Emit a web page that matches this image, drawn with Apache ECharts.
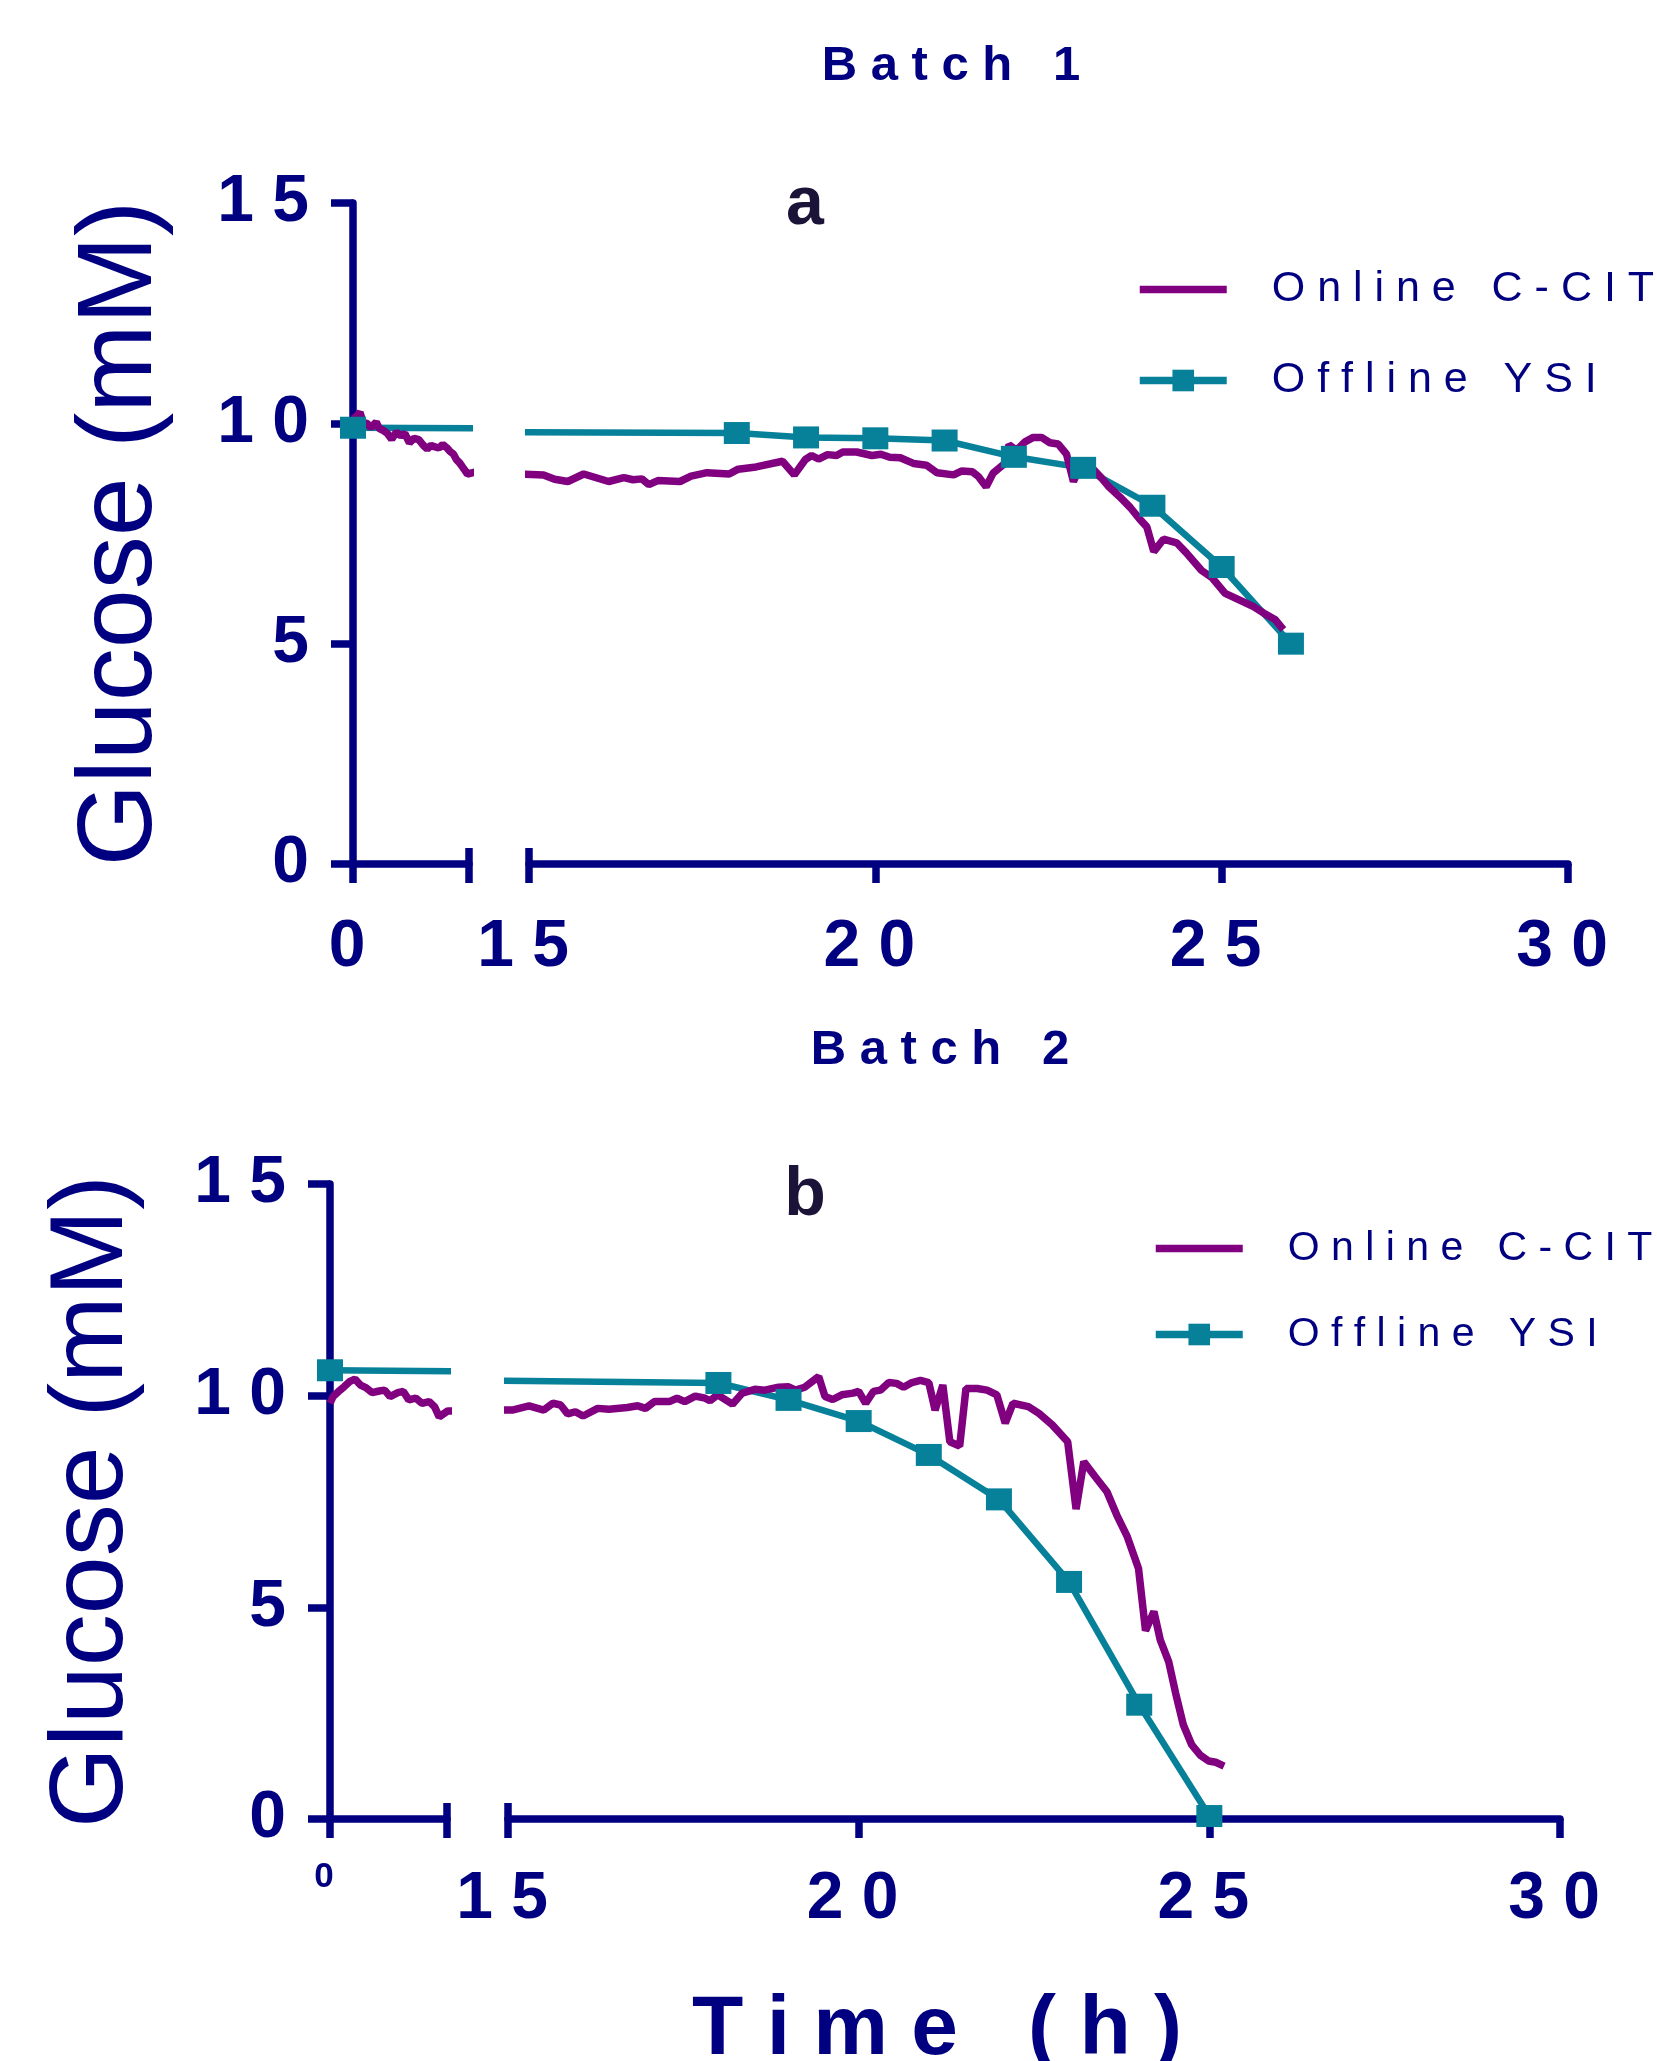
<!DOCTYPE html>
<html>
<head>
<meta charset="utf-8">
<title>Glucose: online C-CIT vs offline YSI</title>
<script src="https://cdn.jsdelivr.net/npm/echarts@6/dist/echarts.min.js"></script>
<style>
  html, body { margin: 0; padding: 0; background: #fff; }
  #chart { width: 1657px; height: 2061px; }
</style>
</head>
<body>
<div id="chart"></div>
<script>
// Values. Time in h, glucose in mM.
// The x axis is broken: a short segment from 0, then 15 to 30.

// Batch 1
const onlineA_t = [0, 0.04, 0.09, 0.13, 0.18, 0.23, 0.30, 0.34, 0.38, 0.44, 0.50, 0.56, 0.62, 0.67, 0.73, 0.79,
  0.85, 0.91, 0.96, 1.01, 1.05, 1.11, 1.16, 1.21, 1.25, 1.30, 1.34, 1.38, 1.42, 1.48, 1.60,
  14.9, 15.21, 15.37, 15.56, 15.79, 16.15, 16.37, 16.5, 16.63, 16.73, 16.86, 17.18, 17.34, 17.57, 17.89,
  18.02, 18.28, 18.66, 18.83, 18.99, 19.08, 19.18, 19.31, 19.44, 19.53, 19.73, 19.95, 20.08, 20.21, 20.36,
  20.55, 20.74, 20.89, 21.13, 21.25, 21.4, 21.49, 21.60, 21.70, 21.80, 21.87, 21.93, 22.04, 22.16, 22.28,
  22.40, 22.52, 22.64, 22.76, 22.86, 22.98, 23.12, 23.27, 23.36, 23.53, 23.68, 23.82, 23.92, 24.02, 24.16,
  24.35, 24.49, 24.71, 24.86, 25.05, 25.26, 25.46, 25.63, 25.77, 25.89];
const onlineA_v = [10.1, 10.15, 10.25, 10.02, 10.0, 9.9, 10.03, 9.88, 9.85, 9.78, 9.64, 9.8, 9.72, 9.77, 9.56, 9.66,
  9.63, 9.5, 9.42, 9.5, 9.47, 9.44, 9.52, 9.45, 9.37, 9.3, 9.17, 9.1, 9.0, 8.85, 8.9,
  8.85, 8.83, 8.73, 8.68, 8.85, 8.68, 8.77, 8.72, 8.74, 8.61, 8.70, 8.68, 8.80, 8.88, 8.85,
  8.96, 9.01, 9.14, 8.83, 9.18, 9.27, 9.19, 9.29, 9.27, 9.35, 9.35, 9.27, 9.30, 9.23, 9.22,
  9.09, 9.05, 8.88, 8.83, 8.92, 8.9, 8.79, 8.56, 8.87, 9.0, 9.09, 9.51, 9.39, 9.58, 9.68,
  9.68, 9.56, 9.53, 9.30, 8.68, 9.13, 9.0, 8.75, 8.58, 8.33, 8.09, 7.82, 7.65, 7.09, 7.37,
  7.29, 7.06, 6.66, 6.5, 6.14, 5.99, 5.84, 5.67, 5.55, 5.32];
const ysiA_t = [0, 18, 19, 20, 21, 22, 23, 24, 25, 26];
const ysiA_v = [9.9, 9.78, 9.68, 9.66, 9.61, 9.24, 8.99, 8.13, 6.74, 5.0];

// Batch 2
const onlineB_t = [0, 0.04, 0.11, 0.18, 0.25, 0.32, 0.39, 0.46, 0.54, 0.63, 0.70, 0.77, 0.87, 0.94, 1.01, 1.10,
  1.18, 1.27, 1.34, 1.40, 1.51, 1.62,
  14.89, 15.06, 15.3, 15.51, 15.64, 15.75, 15.85, 15.96, 16.07, 16.28, 16.44, 16.70, 16.85, 16.96, 17.09,
  17.30, 17.41, 17.52, 17.67, 17.81, 17.88, 17.99, 18.20, 18.34, 18.52, 18.66, 18.86, 19.0, 19.10, 19.23,
  19.43, 19.52, 19.63, 19.76, 19.92, 20.0, 20.10, 20.21, 20.31, 20.43, 20.54, 20.64, 20.76, 20.88, 21.0,
  21.09, 21.20, 21.30, 21.44, 21.53, 21.69, 21.83, 21.97, 22.09, 22.20, 22.42, 22.57, 22.76, 22.98, 23.10,
  23.21, 23.37, 23.54, 23.68, 23.83, 23.99, 24.09, 24.21, 24.30, 24.42, 24.52, 24.63, 24.75, 24.87, 24.99,
  25.09, 25.21];
const onlineB_v = [9.82, 9.98, 10.1, 10.21, 10.33, 10.39, 10.25, 10.19, 10.07, 10.11, 10.13, 9.98, 10.07, 10.1, 9.9, 9.94,
  9.82, 9.86, 9.74, 9.5, 9.64, 9.64,
  9.66, 9.66, 9.76, 9.66, 9.82, 9.78, 9.57, 9.62, 9.52, 9.70, 9.68, 9.72, 9.76, 9.70, 9.86,
  9.86, 9.94, 9.86, 9.99, 9.94, 9.88, 10.02, 9.80, 10.06, 10.15, 10.13, 10.20, 10.21, 10.13, 10.20,
  10.45, 9.98, 9.91, 10.02, 10.06, 10.1, 9.82, 10.1, 10.13, 10.31, 10.29, 10.2, 10.31, 10.36, 10.31,
  9.66, 10.25, 8.91, 8.81, 10.17, 10.17, 10.13, 10.02, 9.35, 9.82, 9.74, 9.58, 9.31, 8.91, 7.32,
  8.44, 8.09, 7.73, 7.18, 6.67, 5.92, 4.45, 4.90, 4.23, 3.72, 2.97, 2.22, 1.75, 1.51, 1.37,
  1.34, 1.25];
const ysiB_t = [0, 18, 19, 20, 21, 22, 23, 24, 25];
const ysiB_v = [10.6, 10.3, 9.9, 9.4, 8.6, 7.55, 5.6, 2.7, 0.07];

// axis ticks
const yTicks = [0, 5, 10, 15];
const shortTicks = [0];
const longTicks = [15, 20, 25, 30];
const breakFrom = 1.5;   // end of the short segment
const breakTo = 15;      // start of the long segment

const NAVY = '#000080';
const PURPLE = '#800080';
const TEAL = '#07809a';
const DARK = '#1b1438';
const FONT = '"Liberation Sans", Arial, sans-serif';

// spread letters the way the original figure does
const spaced = s => String(s).split('').join(' ');
const zip = (t, v) => t.map((x, i) => [x, v[i]]);

// pixel layout of the two panels
const panels = [
  { top: 203, bottom: 864, left: 353, split: 469, resume: 529, right: 1568,
    online: zip(onlineA_t, onlineA_v), ysi: zip(ysiA_t, ysiA_v),
    zeroSize: 66, zeroMargin: 51, nameGap: 178, nameSize: 106 },
  { top: 1184, bottom: 1819, left: 330, split: 447, resume: 508, right: 1560,
    online: zip(onlineB_t, onlineB_v), ysi: zip(ysiB_t, ysiB_v),
    zeroSize: 35, zeroMargin: 41, nameGap: 185, nameSize: 104 }
];

const grid = [];
const xAxis = [];
const yAxis = [];
const series = [];

panels.forEach((p, pi) => {
  const segments = [
    { left: p.left, width: p.split - p.left, min: 0, max: breakFrom,
      ticks: [0, breakFrom], bar: [breakFrom], labels: shortTicks,
      labelSize: p.zeroSize, labelMargin: p.zeroMargin },
    { left: p.resume, width: p.right - p.resume, min: breakTo, max: 30,
      ticks: longTicks, bar: [breakTo], labels: longTicks,
      labelSize: 66, labelMargin: pi === 0 ? 51 : 48 }
  ];

  segments.forEach((s, si) => {
    const gi = grid.length;
    grid.push({ left: s.left, top: p.top, width: s.width, height: p.bottom - p.top, outerBoundsMode: 'none' });

    // main axis: line, outward ticks, labels
    xAxis.push({
      gridIndex: gi, type: 'value', position: 'bottom', min: s.min, max: s.max,
      axisLine: { show: true, onZero: false, lineStyle: { color: NAVY, width: 7.5 } },
      axisTick: { show: true, length: 19, customValues: s.ticks, lineStyle: { color: NAVY, width: 7.5 } },
      axisLabel: {
        show: true, customValues: s.labels, margin: s.labelMargin, padding: [0, 12, 0, 0],
        fontSize: s.labelSize, fontWeight: 'bold', color: NAVY, fontFamily: FONT,
        formatter: v => spaced(v)
      },
      splitLine: { show: false }
    });
    // second axis on the same line: upper half of the break bars
    xAxis.push({
      gridIndex: gi, type: 'value', position: 'bottom', min: s.min, max: s.max,
      axisLine: { show: false },
      axisTick: { show: true, inside: true, length: 16, customValues: s.bar, lineStyle: { color: NAVY, width: 7.5 } },
      axisLabel: { show: false },
      splitLine: { show: false }
    });

    const first = si === 0;
    yAxis.push({
      gridIndex: gi, type: 'value', min: 0, max: 15, interval: 5, show: first,
      axisLine: { show: true, onZero: false, lineStyle: { color: NAVY, width: 7.5 } },
      axisTick: { show: true, length: 22, customValues: yTicks, lineStyle: { color: NAVY, width: 7.5 } },
      axisLabel: {
        show: true, customValues: yTicks, margin: 44, padding: [13, 0, 0, 0],
        fontSize: 66, fontWeight: 'bold', color: NAVY, fontFamily: FONT,
        formatter: v => spaced(v)
      },
      splitLine: { show: false },
      name: first ? 'Glucose (mM)' : '',
      nameLocation: 'middle', nameRotate: 90, nameGap: p.nameGap,
      nameTextStyle: { fontSize: p.nameSize, color: NAVY, fontFamily: FONT }
    });

    series.push({
      name: 'Offline YSI', type: 'line', xAxisIndex: gi * 2, yAxisIndex: gi,
      data: p.ysi, clip: true,
      symbol: 'rect', symbolSize: [26, 22],
      lineStyle: { color: TEAL, width: 6.5 },
      itemStyle: { color: TEAL }
    });
    series.push({
      name: 'Online C-CIT', type: 'line', xAxisIndex: gi * 2, yAxisIndex: gi,
      data: p.online, clip: true,
      symbol: 'none', showSymbol: false,
      lineStyle: { color: PURPLE, width: 7.5 },
      itemStyle: { color: PURPLE }
    });
  });
});

// online trace has no marker, so its legend swatch is just the line
const legendItems = [
  { name: 'Online C-CIT', itemStyle: { opacity: 0 } },
  { name: 'Offline YSI' }
];

const legendBase = {
  orient: 'vertical', selectedMode: false,
  data: legendItems,
  itemWidth: 87, itemHeight: 27,
  lineStyle: { width: 7.5 },
  formatter: name => spaced(name)
};

const option = {
  animation: false,
  backgroundColor: '#fff',
  textStyle: { fontFamily: FONT },
  grid: grid,
  xAxis: xAxis,
  yAxis: yAxis,
  series: series,
  legend: [
    Object.assign({}, legendBase, {
      left: 1131, top: 263, itemGap: 48,
      textStyle: { fontSize: 43, color: NAVY, fontFamily: FONT, padding: [0, 0, 0, 40] }
    }),
    Object.assign({}, legendBase, {
      left: 1147, top: 1223, itemGap: 45,
      textStyle: { fontSize: 41, color: NAVY, fontFamily: FONT, padding: [0, 0, 0, 40] }
    })
  ],
  graphic: [
    { type: 'text', x: 951, y: 66, style: { text: spaced('Batch 1'), font: 'bold 49px ' + FONT, fill: NAVY,
        textAlign: 'center', textVerticalAlign: 'middle', align: 'center', verticalAlign: 'middle' } },
    { type: 'text', x: 805, y: 205, style: { text: 'a', font: 'bold 68px ' + FONT, fill: DARK,
        textAlign: 'center', textVerticalAlign: 'middle', align: 'center', verticalAlign: 'middle' } },
    { type: 'text', x: 940, y: 1050, style: { text: spaced('Batch 2'), font: 'bold 49px ' + FONT, fill: NAVY,
        textAlign: 'center', textVerticalAlign: 'middle', align: 'center', verticalAlign: 'middle' } },
    { type: 'text', x: 805, y: 1196, style: { text: 'b', font: 'bold 68px ' + FONT, fill: DARK,
        textAlign: 'center', textVerticalAlign: 'middle', align: 'center', verticalAlign: 'middle' } },
    { type: 'text', x: 937, y: 2031, style: { text: spaced('Time (h)'), font: 'bold 84px ' + FONT, fill: NAVY,
        textAlign: 'center', textVerticalAlign: 'middle', align: 'center', verticalAlign: 'middle' } }
  ]
};

const chart = echarts.init(document.getElementById('chart'));
chart.setOption(option);
</script>
</body>
</html>
